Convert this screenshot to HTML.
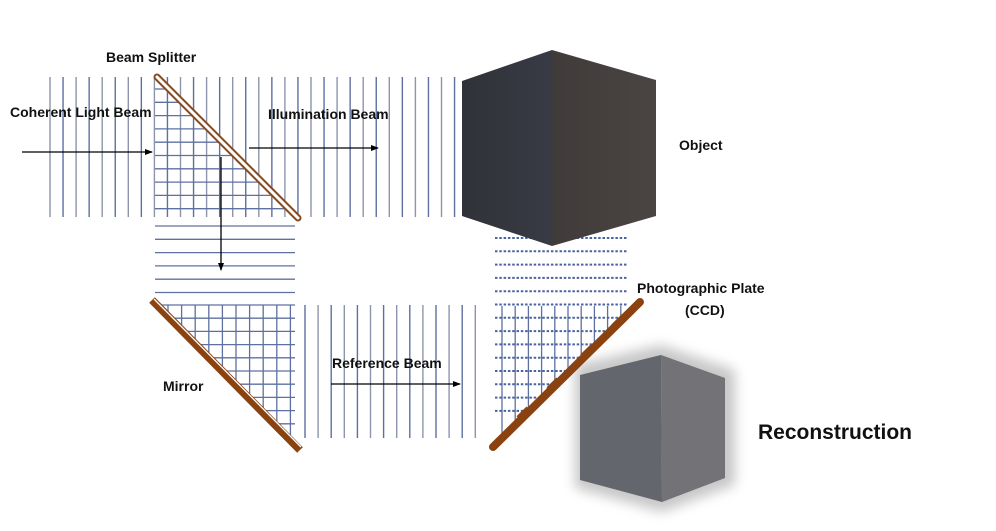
<!DOCTYPE html>
<html><head><meta charset="utf-8">
<style>
html,body{margin:0;padding:0;background:#fff;}
svg{display:block;}
text{font-family:"Liberation Sans",sans-serif;font-weight:bold;fill:#111;}
</style></head>
<body>
<svg id="s" width="996" height="531" viewBox="0 0 996 531" xmlns="http://www.w3.org/2000/svg">
<defs>
<marker id="ar" markerWidth="8" markerHeight="8" refX="7" refY="4" orient="auto" markerUnits="userSpaceOnUse">
<path d="M0,1 L8,4 L0,7 Z" fill="#000"/></marker>
<linearGradient id="gl" x1="0" y1="0" x2="1" y2="0"><stop offset="0" stop-color="#303238"/><stop offset="1" stop-color="#383b45"/></linearGradient>
<linearGradient id="gr" x1="0" y1="0" x2="1" y2="0"><stop offset="0" stop-color="#403b3a"/><stop offset="1" stop-color="#4a4443"/></linearGradient>
<filter id="sh" x="-30%" y="-30%" width="160%" height="160%"><feGaussianBlur stdDeviation="6"/></filter>
</defs>
<g id="lines"></g>
<!-- Object cube -->
<polygon points="462,81 552,50 552,246 462,216" fill="url(#gl)"/>
<polygon points="552,50 656,80 656,216 552,246" fill="url(#gr)"/>
<!-- reconstruction -->
<polygon points="575,365 661,345 735,370 735,485 662,512 575,488" fill="#999" opacity="0.55" filter="url(#sh)"/>
<polygon points="580,375 661,355 662,502 580,480" fill="#64666d"/>
<polygon points="661,355 725,378 725,478 662,502" fill="#737377"/>
<!-- arrows -->
<g stroke="#000" stroke-width="1.3">
<line x1="22" y1="152" x2="152" y2="152" marker-end="url(#ar)"/>
<line x1="249" y1="148" x2="378" y2="148" marker-end="url(#ar)"/>
<line x1="221" y1="157" x2="221" y2="270" marker-end="url(#ar)"/>
<line x1="331" y1="384" x2="460" y2="384" marker-end="url(#ar)"/>
</g>
<!-- beam splitter -->
<line x1="157" y1="77" x2="298" y2="218" stroke="#8a4a1e" stroke-width="7" stroke-linecap="round"/>
<line x1="157" y1="77" x2="298" y2="218" stroke="#fff" stroke-width="3" stroke-linecap="round"/>
<!-- mirror -->
<line x1="152" y1="300" x2="300" y2="450" stroke="#8a4210" stroke-width="8"/>
<line x1="154" y1="299" x2="301" y2="447" stroke="#fff" stroke-width="1.3"/>
<!-- plate -->
<line x1="493" y1="447" x2="640" y2="302" stroke="#8a4210" stroke-width="8" stroke-linecap="round"/>
<g fill="#8a4210">
<rect x="518" y="410" width="14" height="8" transform="rotate(-44 525 415)"/>
<rect x="548" y="381" width="14" height="8" transform="rotate(-44 555 386)"/>
<rect x="582" y="348" width="14" height="8" transform="rotate(-44 589 353)"/>
<rect x="613" y="318" width="14" height="8" transform="rotate(-44 620 323)"/>
</g>
<text x="106" y="62" font-size="14">Beam Splitter</text>
<text x="10" y="117" font-size="14">Coherent Light Beam</text>
<text x="268" y="119" font-size="14">Illumination Beam</text>
<text x="679" y="150" font-size="14">Object</text>
<text x="637" y="293" font-size="14">Photographic Plate</text>
<text x="685" y="315" font-size="14">(CCD)</text>
<text x="163" y="391" font-size="14">Mirror</text>
<text x="332" y="368" font-size="14">Reference Beam</text>
<text x="758" y="439" font-size="21">Reconstruction</text>
</svg>
<script>
var g=document.getElementById('lines'),NS='http://www.w3.org/2000/svg';
function L(x1,y1,x2,y2,c,w,d){var l=document.createElementNS(NS,'line');l.setAttribute('x1',x1);l.setAttribute('y1',y1);l.setAttribute('x2',x2);l.setAttribute('y2',y2);l.setAttribute('stroke',c);l.setAttribute('stroke-width',w);if(d)l.setAttribute('stroke-dasharray',d);g.appendChild(l);}
var C='#5d70a0',C2='#8d95ac';
for(var x=50;x<=456;x+=13.05){L(x,77,x,217,(Math.round((x-50)/13)%2)?C:C2,1.4);}
for(var y=89;y<=213;y+=13.3){L(155,y,157+(y-77),y,C,1.3);}
for(var y=226;y<=293;y+=13.3){L(155,y,295,y,C,1.3);}
for(var y=305;y<=424;y+=13.2){L(152+(y-300)+2,y,295,y,C,1.3);}
for(var x=168;x<=291;x+=13.6){L(x,305,x,300+(x-152)-2,C,1.3);}
for(var x=305;x<=481;x+=13.1){L(x,305,x,438,(Math.round((x-305)/13)%2)?C2:C,1.4);}
function py(x){return 447-(x-493)*145/147;}
for(var x=502;x<=622;x+=13.2){L(x,306,x,py(x)-3,C,1.3);}
for(var y=238;y<=424;y+=13.3){var xe=628;var xp=493+(447-y)*147/145-4;if(xp<xe)xe=xp;L(495,y,xe,y,'#4a63a0',2,'2.5,1.8');}
</script>
</body></html>
